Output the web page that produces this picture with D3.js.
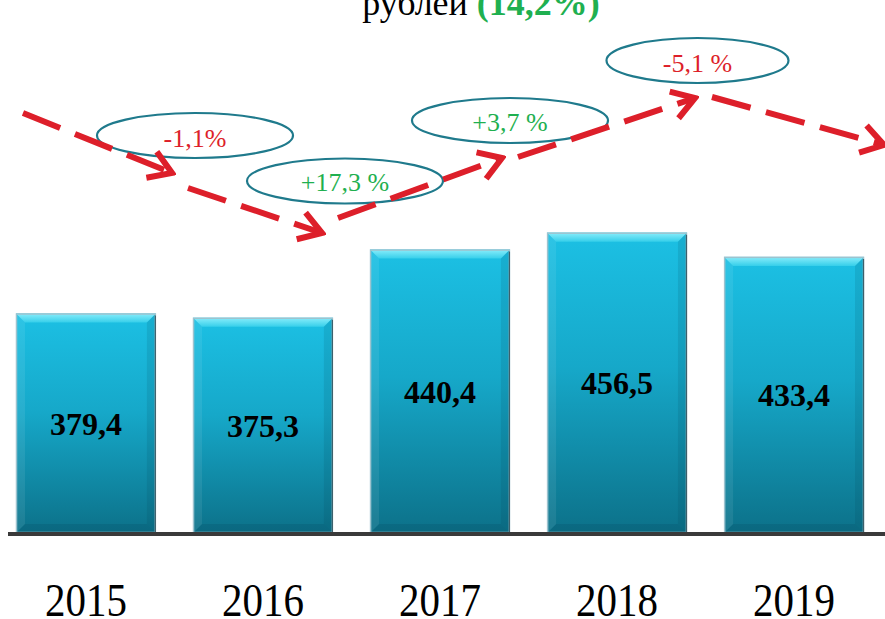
<!DOCTYPE html>
<html>
<head>
<meta charset="utf-8">
<script src="https://cdn.jsdelivr.net/npm/d3@7/dist/d3.min.js"></script>
<style>
  html, body { margin: 0; padding: 0; background: #ffffff; }
  svg { display: block; }
</style>
</head>
<body>
<svg id="chart" width="885" height="619"></svg>
<script>
// ---- DATA ----
const years = ["2015", "2016", "2017", "2018", "2019"];
const values = [379.4, 375.3, 440.4, 456.5, 433.4];
const valueLabels = ["379,4", "375,3", "440,4", "456,5", "433,4"];
const changeLabels = ["-1,1%", "+17,3 %", "+3,7 %", "-5,1 %"];
const changeSigns = [-1, 1, 1, -1];
const titleText = "рублей ";
const titleHighlight = "(14,2%)";

// ---- LAYOUT ----
const W = 885, H = 619;
const baseY = 533;
const svg = d3.select("#chart");
const serif = "'Liberation Serif', 'Times New Roman', serif";
const RED = "#dd1f2a", GREEN = "#1fb050", TEAL = "#1f7a8c";

const x = d3.scaleBand().domain(years).range([16, 864]).paddingInner(0.21).paddingOuter(0);
const y = d3.scaleLinear().domain([170, 460]).range([baseY, 229]);

const defs = svg.append("defs");
const g1 = defs.append("linearGradient").attr("id", "barGrad").attr("x1", 0).attr("y1", 0).attr("x2", 0).attr("y2", 1);
g1.append("stop").attr("offset", "0%").attr("stop-color", "#1cc0e4");
g1.append("stop").attr("offset", "45%").attr("stop-color", "#16a8c9");
g1.append("stop").attr("offset", "100%").attr("stop-color", "#0c7189");
const g2 = defs.append("linearGradient").attr("id", "topGrad").attr("x1", 0).attr("y1", 0).attr("x2", 0).attr("y2", 1);
g2.append("stop").attr("offset", "0%").attr("stop-color", "#8aedfb");
g2.append("stop").attr("offset", "100%").attr("stop-color", "#36cfea");

// arrowhead marker (open chevron)
defs.append("marker").attr("id", "chev")
  .attr("markerUnits", "userSpaceOnUse")
  .attr("viewBox", "-30 -20 34 40")
  .attr("refX", 0).attr("refY", 0)
  .attr("markerWidth", 34).attr("markerHeight", 40)
  .attr("orient", "auto")
  .append("path")
  .attr("d", "M-22,-14 L0,0 L-22,14")
  .attr("fill", "none").attr("stroke", RED).attr("stroke-width", 6)
  .attr("stroke-linejoin", "miter").attr("stroke-linecap", "butt");

// ---- TITLE (partly cut at top, as in the source) ----
const title = svg.append("text")
  .attr("x", 481).attr("y", 15)
  .attr("text-anchor", "middle")
  .attr("font-family", serif).attr("font-size", 36).attr("fill", "#000");
title.append("tspan").text(titleText);
title.append("tspan").attr("font-weight", "bold").attr("fill", GREEN).text(titleHighlight);

// ---- BARS ----
const bev = 9;
const bars = svg.append("g").selectAll("g").data(years).join("g");
bars.each(function(d, i) {
  const gg = d3.select(this);
  const x0 = x(d), w = x.bandwidth(), y0 = y(values[i]), h = baseY - y0;
  gg.append("rect").attr("x", x0).attr("y", y0).attr("width", w).attr("height", h)
    .attr("fill", "url(#barGrad)");
  gg.append("path").attr("d", `M${x0},${y0} L${x0 + w},${y0} L${x0 + w - bev},${y0 + bev} L${x0 + bev},${y0 + bev} Z`)
    .attr("fill", "url(#topGrad)");
  gg.append("path").attr("d", `M${x0},${y0} L${x0 + bev},${y0 + bev} L${x0 + bev},${baseY - bev} L${x0},${baseY} Z`)
    .attr("fill", "#ffffff").attr("opacity", 0.08);
  gg.append("path").attr("d", `M${x0 + w},${y0} L${x0 + w - bev},${y0 + bev} L${x0 + w - bev},${baseY - bev} L${x0 + w},${baseY} Z`)
    .attr("fill", "#003848").attr("opacity", 0.12);
  gg.append("path").attr("d", `M${x0},${baseY} L${x0 + bev},${baseY - bev} L${x0 + w - bev},${baseY - bev} L${x0 + w},${baseY} Z`)
    .attr("fill", "#003848").attr("opacity", 0.15);
  gg.append("rect").attr("x", x0 + 0.5).attr("y", y0 + 0.5).attr("width", w - 1).attr("height", h - 1)
    .attr("fill", "none").attr("stroke", "#9dc3cf").attr("stroke-width", 1.5);
  gg.append("line").attr("x1", x0 + w - 0.5).attr("x2", x0 + w - 0.5).attr("y1", y0 + 2).attr("y2", baseY)
    .attr("stroke", "#3d5f6a").attr("stroke-width", 1.2);
  gg.append("text")
    .attr("x", x0 + w / 2).attr("y", (y0 + baseY) / 2)
    .attr("dy", "0.36em")
    .attr("text-anchor", "middle")
    .attr("font-family", serif).attr("font-weight", "bold").attr("font-size", 32)
    .attr("fill", "#000").text(valueLabels[i]);
});

// baseline
svg.append("line").attr("x1", 8).attr("x2", W).attr("y1", baseY + 1).attr("y2", baseY + 1)
  .attr("stroke", "#3a3a3a").attr("stroke-width", 4);

// year axis labels (slightly tall glyphs as in the source)
const xAxis = d3.axisBottom(x).tickSize(0).tickPadding(0);
const ax = svg.append("g").attr("transform", `translate(0,${baseY})`).call(xAxis);
ax.select(".domain").remove();
ax.selectAll("text")
  .attr("font-family", serif).attr("font-size", 41).attr("fill", "#000")
  .attr("dy", null).attr("y", 83 / 1.12)
  .attr("transform", "scale(1,1.12)");

// ---- CHANGE ELLIPSES ----
const ell = [
  { cx: 195, cy: 135.5, rx: 98, ry: 22.5, ty: 147 },
  { cx: 345, cy: 181, rx: 98, ry: 22.5, ty: 191 },
  { cx: 510, cy: 120.5, rx: 98, ry: 22.5, ty: 131 },
  { cx: 697.5, cy: 60.5, rx: 91, ry: 22.5, ty: 72 }
];
const eg = svg.append("g");
ell.forEach((e, i) => {
  eg.append("ellipse").attr("cx", e.cx).attr("cy", e.cy).attr("rx", e.rx).attr("ry", e.ry)
    .attr("fill", "#ffffff").attr("stroke", TEAL).attr("stroke-width", 2.2);
  eg.append("text").attr("x", e.cx).attr("y", e.ty).attr("text-anchor", "middle")
    .attr("font-family", serif).attr("font-size", 26)
    .attr("fill", changeSigns[i] < 0 ? RED : GREEN).text(changeLabels[i]);
});

// ---- TREND ARROWS ----
const arrows = [
  [[23, 113], [172, 173]],
  [[188, 188], [322, 233]],
  [[338, 218], [502, 158]],
  [[518, 157], [695, 98]],
  [[712, 97], [884, 145]]
];
const ag = svg.append("g");
arrows.forEach(a => {
  ag.append("line")
    .attr("x1", a[0][0]).attr("y1", a[0][1]).attr("x2", a[1][0]).attr("y2", a[1][1])
    .attr("stroke", RED).attr("stroke-width", 6)
    .attr("stroke-dasharray", "40,16")
    .attr("marker-end", "url(#chev)");
});
</script>
</body>
</html>
